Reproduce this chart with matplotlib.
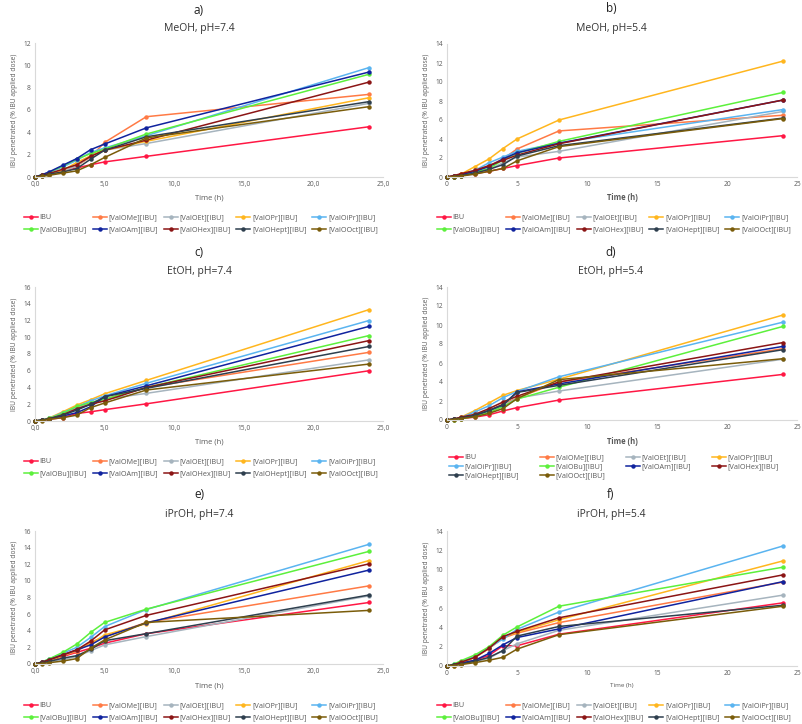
import matplotlib
matplotlib.use("Agg")
import matplotlib.pyplot as plt

time_h = [0, 0.5, 1, 2, 3, 4, 5, 8, 24]

names = ["IBU", "[ValOMe][IBU]", "[ValOEt][IBU]", "[ValOPr][IBU]", "[ValOiPr][IBU]",
         "[ValOBu][IBU]", "[ValOAm][IBU]", "[ValOHex][IBU]", "[ValOHept][IBU]", "[ValOOct][IBU]"]

colors = ["#FF1744", "#FF7A45", "#A6B4BE", "#FFB61E", "#5AB4F0",
          "#5CF03C", "#10239E", "#8B1515", "#2E3F4E", "#7A5C0A"]

# a) MeOH, pH=7.4
meoh_74 = [
    [0, 0.15, 0.3, 0.55, 0.8, 1.1, 1.35, 1.85, 4.5],
    [0, 0.15, 0.3, 0.5, 1.0, 1.8, 3.1, 5.4, 7.4],
    [0, 0.1, 0.2, 0.5, 1.0, 1.9, 2.4, 3.0, 6.6],
    [0, 0.1, 0.2, 0.6, 1.3, 1.9, 2.4, 3.2, 7.1],
    [0, 0.2, 0.4, 0.9, 1.5, 2.2, 2.6, 3.7, 9.8],
    [0, 0.2, 0.4, 1.0, 1.6, 2.1, 2.5, 3.85, 9.2],
    [0, 0.2, 0.45, 1.05, 1.65, 2.45, 2.95, 4.4, 9.4],
    [0, 0.15, 0.3, 0.7, 1.1, 1.85, 2.4, 3.3, 8.5],
    [0, 0.1, 0.25, 0.45, 0.75, 1.6, 2.4, 3.6, 6.75],
    [0, 0.05, 0.15, 0.35, 0.55, 1.1, 1.75, 3.5, 6.3],
]

# b) MeOH, pH=5.4
meoh_54 = [
    [0, 0.1, 0.15, 0.35, 0.6, 0.9, 1.2, 2.0, 4.35],
    [0, 0.1, 0.3, 0.6, 1.2, 1.9, 2.95, 4.85, 6.5],
    [0, 0.05, 0.15, 0.4, 0.8, 1.5, 2.1, 2.7, 6.9],
    [0, 0.1, 0.3, 1.1, 1.9, 3.0, 4.0, 6.0, 12.2],
    [0, 0.1, 0.25, 0.7, 1.5, 2.1, 2.7, 3.6, 7.1],
    [0, 0.05, 0.15, 0.5, 0.9, 1.8, 2.5, 3.75, 8.9],
    [0, 0.1, 0.25, 0.6, 1.1, 1.9, 2.55, 3.55, 8.1],
    [0, 0.15, 0.35, 0.7, 1.2, 1.75, 2.3, 3.5, 8.1],
    [0, 0.05, 0.15, 0.4, 0.8, 1.3, 2.2, 3.3, 6.2],
    [0, 0.05, 0.1, 0.3, 0.6, 0.9, 1.7, 3.2, 6.15],
]

# c) EtOH, pH=7.4
etoh_74 = [
    [0, 0.1, 0.2, 0.4, 0.9, 1.1, 1.35, 2.05, 6.0],
    [0, 0.1, 0.25, 0.8, 1.5, 2.0, 2.6, 4.0, 8.2],
    [0, 0.1, 0.3, 0.9, 1.6, 2.2, 2.6, 3.3, 7.3],
    [0, 0.15, 0.35, 1.1, 1.9, 2.55, 3.25, 4.85, 13.3],
    [0, 0.15, 0.3, 1.0, 1.7, 2.4, 3.0, 4.5, 12.0],
    [0, 0.1, 0.3, 0.9, 1.75, 2.2, 2.6, 4.0, 10.2],
    [0, 0.1, 0.25, 0.6, 1.0, 1.7, 2.9, 4.2, 11.3],
    [0, 0.1, 0.25, 0.75, 1.45, 2.0, 2.4, 4.0, 9.6],
    [0, 0.1, 0.25, 0.7, 1.3, 2.0, 2.9, 3.9, 8.9],
    [0, 0.05, 0.2, 0.4, 0.7, 1.6, 2.15, 3.7, 6.8],
]

# d) EtOH, pH=5.4
etoh_54 = [
    [0, 0.1, 0.15, 0.3, 0.55, 0.95, 1.3, 2.1, 4.8],
    [0, 0.1, 0.2, 0.5, 1.0, 1.7, 2.3, 4.0, 7.5],
    [0, 0.1, 0.2, 0.45, 0.9, 1.5, 2.3, 3.05, 6.4],
    [0, 0.1, 0.3, 1.0, 1.8, 2.6, 3.1, 4.3, 11.05],
    [0, 0.1, 0.25, 0.85, 1.5, 2.35, 3.0, 4.55, 10.3],
    [0, 0.05, 0.15, 0.4, 0.8, 1.4, 2.2, 3.45, 9.85],
    [0, 0.1, 0.2, 0.5, 1.0, 1.6, 2.95, 3.8, 7.75],
    [0, 0.1, 0.3, 0.6, 1.2, 1.9, 2.5, 4.0, 8.15],
    [0, 0.1, 0.2, 0.5, 1.0, 1.6, 2.9, 3.65, 7.4],
    [0, 0.05, 0.15, 0.35, 0.7, 1.2, 2.25, 4.25, 6.45],
]

# e) iPrOH, pH=7.4
iproh_74 = [
    [0, 0.2, 0.4, 0.9, 1.4, 1.9, 2.5, 3.65, 7.4],
    [0, 0.2, 0.45, 1.0, 1.5, 2.6, 3.3, 5.0, 9.4],
    [0, 0.1, 0.25, 0.5, 0.9, 1.6, 2.3, 3.3, 8.2],
    [0, 0.2, 0.45, 1.0, 1.7, 2.4, 3.5, 4.85, 12.45],
    [0, 0.25, 0.55, 1.3, 2.0, 3.2, 4.5, 6.55, 14.4],
    [0, 0.25, 0.6, 1.4, 2.4, 3.8, 5.0, 6.6, 13.55],
    [0, 0.2, 0.5, 1.1, 1.7, 2.3, 3.25, 4.95, 11.3],
    [0, 0.2, 0.5, 1.1, 1.7, 2.75, 4.1, 5.85, 12.05],
    [0, 0.1, 0.3, 0.7, 1.0, 1.75, 2.8, 3.65, 8.3],
    [0, 0.05, 0.15, 0.35, 0.65, 1.9, 2.9, 5.0, 6.45],
]

# f) iPrOH, pH=5.4
iproh_54 = [
    [0, 0.1, 0.25, 0.6, 1.1, 2.1, 2.1, 3.3, 6.55],
    [0, 0.15, 0.4, 0.9, 1.8, 2.9, 3.4, 4.5, 8.7],
    [0, 0.1, 0.2, 0.45, 0.8, 1.6, 2.3, 3.7, 7.35],
    [0, 0.05, 0.3, 0.9, 1.9, 3.0, 3.5, 4.8, 10.9],
    [0, 0.2, 0.45, 1.0, 1.9, 2.8, 3.8, 5.6, 12.45],
    [0, 0.2, 0.55, 1.15, 2.0, 3.2, 4.05, 6.2, 10.25],
    [0, 0.1, 0.3, 0.6, 1.3, 2.2, 2.95, 3.85, 8.75],
    [0, 0.15, 0.4, 0.9, 1.85, 3.05, 3.6, 5.0, 9.45],
    [0, 0.1, 0.2, 0.5, 0.9, 1.6, 3.1, 4.1, 6.3],
    [0, 0.05, 0.15, 0.35, 0.6, 0.9, 1.75, 3.25, 6.2],
]

W, H = 802, 724
fig = plt.figure(figsize=(W / 100, H / 100), dpi=100)
plt.rcParams['font.family'] = ['Open Sans', 'DejaVu Sans']

grey = "#595959"
spine = "#D9D9D9"

# (data, letter, title, ymax, comma ticks, bold xlabel, xlabel size,
#  axes px box (x0, x1, ytop, ybottom), text centre x, letter y, title y, xlabel y,
#  legend centre y, ncol, col spacing, row spacing)
panels = [
    (meoh_74, "a)", "MeOH, pH=7.4", 12, True, False, 5.5, (35, 383, 43, 177), 199, 10, 29, 198, 224, 5, 0.8, 0.75),
    (meoh_54, "b)", "MeOH, pH=5.4", 14, False, True, 5.5, (447, 797, 44, 177), 611, 8, 28, 197, 224, 5, 0.8, 0.75),
    (etoh_74, "c)", "EtOH, pH=7.4", 16, True, False, 5.5, (35, 383, 287, 421), 199, 252, 272, 442, 468, 5, 0.8, 0.75),
    (etoh_54, "d)", "EtOH, pH=5.4", 14, False, True, 5.5, (447, 797, 287, 420), 611, 252, 272, 441, 467, 4, 2.9, 0.3),
    (iproh_74, "e)", "iPrOH, pH=7.4", 16, True, False, 5.5, (35, 383, 531, 664), 199, 495, 515, 686, 712, 5, 0.8, 0.75),
    (iproh_54, "f)", "iPrOH, pH=5.4", 14, False, False, 4.5, (447, 797, 531, 666), 611, 495, 515, 686, 712, 5, 0.8, 0.75),
]

for (data, letter, title, ymax, comma, bold, xls, box, cx, ly, ty, xly, legy, ncol, cs, rs) in panels:
    x0, x1, yt, yb = box
    ax = fig.add_axes([x0 / W, 1 - yb / H, (x1 - x0) / W, (yb - yt) / H])
    lines = []
    for vals, name, c in zip(data, names, colors):
        ln, = ax.plot(time_h, vals, color=c, lw=1.1, marker="o", ms=2.2,
                      label=name, clip_on=False)
        lines.append(ln)
    ax.set_xlim(0, 25)
    ax.set_ylim(0, ymax)
    ax.set_xticks(range(0, 26, 5))
    if comma:
        ax.set_xticklabels([f"{v},0" for v in range(0, 26, 5)])
    ax.set_yticks(range(0, ymax + 1, 2))
    ax.tick_params(length=0, labelsize=4.8, colors=grey, pad=3)
    for s in ["top", "right"]:
        ax.spines[s].set_visible(False)
    for s in ["left", "bottom"]:
        ax.spines[s].set_color(spine)
        ax.spines[s].set_linewidth(0.8)
    ax.set_ylabel("IBU penetrated (% IBU applied dose)", fontsize=4.8, color=grey, labelpad=4)

    fig.text(cx / W, 1 - ly / H, letter, ha="center", va="center", fontsize=8.5, color="#222222")
    fig.text(cx / W, 1 - ty / H, title, ha="center", va="center", fontsize=7.5, color="#333333")
    fig.text(((x0 + x1) / 2) / W, 1 - xly / H, "Time (h)", ha="center", va="center",
             fontsize=xls, color=grey, fontweight="bold" if bold else "normal")

    # legend filled row by row, as in the original
    nrows = -(-len(lines) // ncol)
    order = [r * ncol + c for c in range(ncol) for r in range(nrows) if r * ncol + c < len(lines)]
    leg = fig.legend(handles=[lines[i] for i in order], loc="center",
                     bbox_to_anchor=(((x0 + x1) / 2 - 8) / W, 1 - legy / H),
                     ncol=ncol, frameon=False, fontsize=5.2, handlelength=1.9,
                     columnspacing=cs, handletextpad=0.25, labelspacing=rs,
                     borderpad=0)
    for t in leg.get_texts():
        t.set_color(grey)

fig.savefig("out.png", dpi=100)
